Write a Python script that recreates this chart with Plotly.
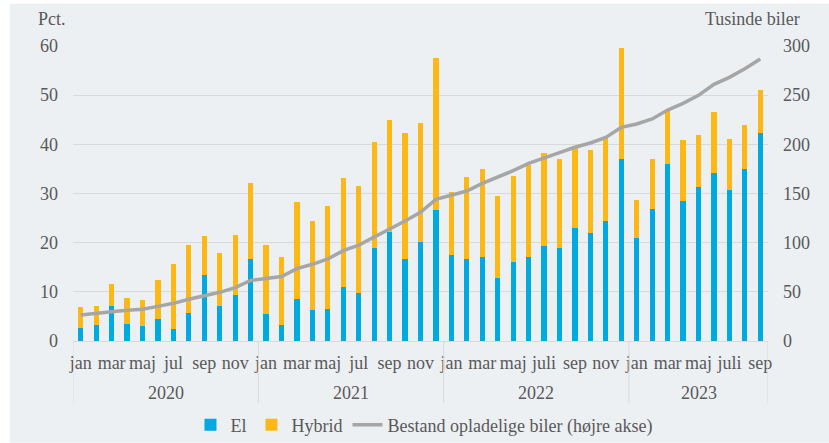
import plotly.graph_objects as go

# ---- data ----
years = ["2020", "2021", "2022", "2023"]
months_per_year = [12, 12, 12, 9]
month_labels = {
    "2020": ["jan", "feb", "mar", "apr", "maj", "jun", "jul", "aug", "sep", "okt", "nov", "dec"],
    "2021": ["jan", "feb", "mar", "apr", "maj", "jun", "jul", "aug", "sep", "okt", "nov", "dec"],
    "2022": ["jan", "feb", "mar", "apr", "maj", "jun", "juli", "aug", "sep", "okt", "nov", "dec"],
    "2023": ["jan", "feb", "mar", "apr", "maj", "jun", "juli", "aug", "sep"],
}

el = [2.7, 3.2, 7.2, 3.5, 3.1, 4.5, 2.4, 5.6, 13.4, 7.1, 9.4, 16.7,
      5.5, 3.3, 8.5, 6.3, 6.6, 11.0, 9.8, 19.0, 22.2, 16.6, 20.1, 26.6,
      17.5, 16.6, 17.1, 12.9, 16.0, 17.1, 19.3, 18.9, 22.9, 22.0, 24.4, 37.0,
      20.9, 26.8, 35.9, 28.5, 31.4, 34.1, 30.8, 35.0, 42.4]
hybrid = [4.2, 3.9, 4.3, 5.2, 5.2, 7.9, 13.3, 14.0, 7.9, 10.8, 12.2, 15.4,
          14.0, 13.7, 19.7, 18.1, 20.8, 22.1, 21.8, 21.4, 22.7, 25.7, 24.2, 30.9,
          12.8, 16.7, 17.8, 16.6, 17.5, 18.6, 19.0, 18.1, 16.8, 16.8, 17.0, 22.5,
          7.7, 10.3, 10.8, 12.4, 10.6, 12.4, 10.2, 9.0, 8.6]
bestand = [26.4, 28.5, 29.8, 31.2, 32.2, 35.2, 38.3, 42.4, 46.1, 49.5, 54.2, 61.5,
           63.5, 65.6, 73.6, 78.0, 83.4, 91.9, 97.6, 105.4, 113.9, 122.0, 130.8, 144.1,
           148.5, 152.5, 160.3, 166.4, 173.2, 180.7, 185.8, 191.5, 197.0, 201.4, 207.1, 217.3,
           220.7, 225.8, 234.9, 241.7, 249.8, 261.0, 268.1, 276.9, 286.8]

# ---- derived positions ----
labels = []
for y in years:
    labels += month_labels[y]
x = list(range(len(labels)))
tickvals = [i for i in x if i % 2 == 0]
ticktext = [labels[i] for i in tickvals]

FONT = "Georgia, 'Liberation Serif', 'DejaVu Serif', serif"
TXT = "#595959"
BG = "#ECF0F3"
GRID = "#D9D9D9"
FS = 18

fig = go.Figure()
fig.add_trace(go.Bar(x=x, y=el, name="El", marker=dict(color="#00A9E0", line=dict(width=0)),
                     width=0.34))
fig.add_trace(go.Bar(x=x, y=hybrid, name="Hybrid", marker=dict(color="#FDB813", line=dict(width=0)),
                     width=0.34))
fig.add_trace(go.Scatter(x=x, y=bestand, name="Bestand opladelige biler (højre akse)",
                         mode="lines", line=dict(color="#A6A6A6", width=3.5), yaxis="y2"))

shapes = [dict(type="rect", xref="paper", yref="paper", x0=-0.091, x1=1.1, y0=-0.345, y1=1.143,
               fillcolor=BG, line=dict(width=0), layer="below")]
annotations = []
start = 0
for yr, n in zip(years, months_per_year):
    end = start + n
    for xv in ([start - 0.5] if start == 0 else []) + [end - 0.5]:
        shapes.append(dict(type="line", xref="x", yref="paper", x0=xv, x1=xv, y0=0, y1=-0.21,
                           line=dict(color=GRID, width=1)))
    annotations.append(dict(x=(start + end - 1) / 2, y=-0.176, xref="x", yref="paper",
                            text=yr, showarrow=False, font=dict(family=FONT, size=FS, color=TXT),
                            yanchor="middle"))
    start = end

annotations.append(dict(x=-0.053, y=1.09, xref="paper", yref="paper", text="Pct.", showarrow=False,
                        xanchor="left", yanchor="middle", font=dict(family=FONT, size=FS, color=TXT)))
annotations.append(dict(x=1.049, y=1.09, xref="paper", yref="paper", text="Tusinde biler",
                        showarrow=False, xanchor="right", yanchor="middle",
                        font=dict(family=FONT, size=FS, color=TXT)))

fig.update_layout(
    width=829, height=443,
    barmode="stack",
    paper_bgcolor="white",
    plot_bgcolor=BG,
    margin=dict(l=73, r=61, t=46, b=102, pad=0, autoexpand=False),
    font=dict(family=FONT, size=FS, color=TXT),
    showlegend=True,
    legend=dict(orientation="h", x=0.505, xanchor="center", y=-0.285, yanchor="middle",
                bgcolor="rgba(0,0,0,0)", font=dict(family=FONT, size=FS, color=TXT),
                itemwidth=30, tracegroupgap=0, traceorder="normal"),
    xaxis=dict(range=[-0.5, len(x) - 0.5], tickmode="array", tickvals=tickvals, ticktext=ticktext,
               showgrid=False, zeroline=False, showline=True, linecolor=GRID, linewidth=1,
               ticks="", ticklabelstandoff=5, tickangle=0, automargin=False),
    yaxis=dict(range=[0, 60], dtick=10, showgrid=True, gridcolor=GRID, gridwidth=1,
               zeroline=False, showline=False, ticks="", ticklabelstandoff=14, automargin=False),
    yaxis2=dict(range=[0, 300], dtick=50, overlaying="y", side="right", showgrid=False,
                zeroline=False, showline=False, ticks="", ticklabelstandoff=14, automargin=False),
    shapes=shapes,
    annotations=annotations,
    bargap=0.66,
)

fig.write_html("out.html", config={"displayModeBar": False},
               post_script="document.body.style.margin='0';")
